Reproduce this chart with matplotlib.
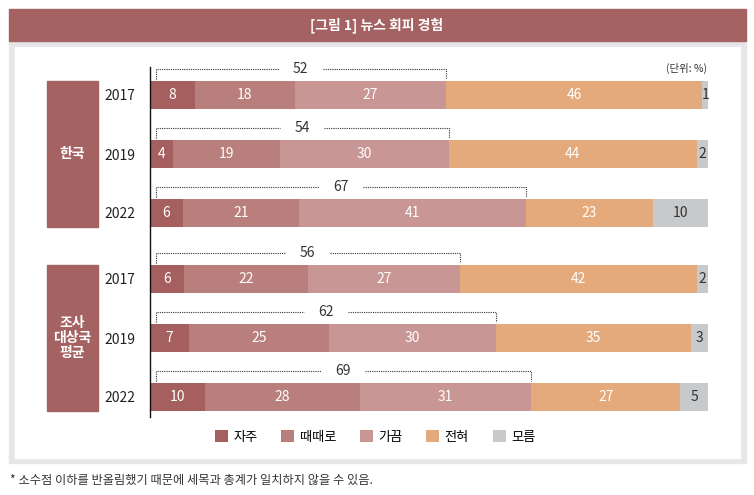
import matplotlib.pyplot as plt
import matplotlib.transforms as mtransforms
from matplotlib.patches import Rectangle
import numpy as np

plt.rcParams['font.family'] = ['Noto Sans CJK KR', 'DejaVu Sans']

# data
years = ['2017', '2019', '2022', '2017', '2019', '2022']
groups = ['한국', '조사\n대상국\n평균']
categories = ['자주', '때때로', '가끔', '전혀', '모름']
often = [8, 4, 6, 6, 7, 10]
sometimes = [18, 19, 21, 22, 25, 28]
occasionally = [27, 30, 41, 27, 30, 31]
never = [46, 44, 23, 42, 35, 27]
dont_know = [1, 2, 10, 2, 3, 5]
avoid_total = [52, 54, 67, 56, 62, 69]

colors = ['#a65f5f', '#b97f7c', '#c89694', '#e5aa7b', '#c8c9cb']
label_colors = ['white', 'white', 'white', 'white', '#333333']

W, H = 754, 495
fig = plt.figure(figsize=(W / 100, H / 100), dpi=100)

def fx(x):
    return x / W

def fy(y):
    return 1 - y / H

# frame, header
fig.patches.append(Rectangle((fx(9), fy(463)), fx(737), 422 / H, transform=fig.transFigure,
                             color='#e6e6e8', zorder=-10))
fig.patches.append(Rectangle((fx(15), fy(458)), fx(725), 411 / H, transform=fig.transFigure,
                             color='white', zorder=-9))
fig.patches.append(Rectangle((fx(9), fy(41)), fx(737), 32 / H, transform=fig.transFigure,
                             color='#a46262', zorder=-8))
fig.text(fx(377), fy(25), '[그림 1] 뉴스 회피 경험', ha='center', va='center',
         color='white', fontsize=10, fontweight='bold')

ax = fig.add_axes([fx(150), fy(417), 558 / W, 350 / H])
ax.set_facecolor('none')

# row positions: 3 rows per group, small extra gap between groups
gap = 66 / 59 - 1
pos = np.array([i + (i // 3) * gap for i in range(len(years))])
bar_h = 28 / 59

series = np.array([often, sometimes, occasionally, never, dont_know], dtype=float)
shares = series / series.sum(axis=0) * 100
left = np.zeros(len(years))
handles = []
for k in range(len(categories)):
    b = ax.barh(pos, shares[k], left=left, height=bar_h, color=colors[k], zorder=2)
    handles.append(b)
    for i in range(len(years)):
        ax.text(left[i] + shares[k][i] / 2, pos[i], str(int(series[k][i])), ha='center',
                va='center', color=label_colors[k], fontsize=10, zorder=3)
    left = left + shares[k]

# brackets for the "avoid" totals (자주+때때로+가끔)
px = 100 / 558
half_gap = 22 * px
top3 = shares[:3].sum(axis=0)
for i in range(len(years)):
    y_line = pos[i] - 26 / 59
    y_tick = pos[i] - 16 / 59
    x0, x1 = 1.0, top3[i]
    mid = (x0 + x1) / 2
    ax.plot([x0, x0, mid - half_gap], [y_tick, y_line, y_line], ls=(0, (1, 1)),
            lw=0.8, color='#333333', zorder=1)
    ax.plot([mid + half_gap, x1, x1], [y_line, y_line, y_tick], ls=(0, (1, 1)),
            lw=0.8, color='#333333', zorder=1)
    ax.text(mid, y_line, str(avoid_total[i]), ha='center', va='center',
            fontsize=10, color='#333333')

ax.set_xlim(0, 100)
ax.set_ylim(pos[-1] + 20 / 59, pos[0] - 28 / 59)
ax.set_xticks([])
ax.set_yticks(pos)
ax.set_yticklabels(years, fontsize=10, color='#222222')
ax.tick_params(axis='y', length=0, pad=10.5)
for s in ['top', 'right', 'bottom']:
    ax.spines[s].set_visible(False)
ax.spines['left'].set_linewidth(1.0)
ax.spines['left'].set_color('#111111')

# group boxes
trans = mtransforms.blended_transform_factory(fig.transFigure, ax.transData)
for g in range(len(groups)):
    top = pos[g * 3] - bar_h / 2
    bottom = pos[g * 3 + 2] + bar_h / 2
    ax.add_patch(Rectangle((fx(47), top), 51 / W, bottom - top, transform=trans,
                           color='#a46262', clip_on=False, zorder=2))
    ax.text(fx(72.5), (top + bottom) / 2, groups[g], transform=trans, ha='center',
            va='center', color='white', fontsize=10, fontweight='bold',
            linespacing=1.05, zorder=3)

fig.text(fx(707), fy(68), '(단위: %)', ha='right', va='center', fontsize=7.5, color='#333333')

fig.legend(handles, categories, loc='center', bbox_to_anchor=(fx(375), fy(437)), ncol=5,
           frameon=False, handlelength=1.0, handleheight=1.0, handletextpad=0.4,
           columnspacing=1.8, fontsize=9.5, borderaxespad=0)

fig.text(fx(10), fy(480), '* 소수점 이하를 반올림했기 때문에 세목과 총계가 일치하지 않을 수 있음.',
         ha='left', va='center', fontsize=8.8, color='#333333')

fig.savefig('out.png', dpi=100)
